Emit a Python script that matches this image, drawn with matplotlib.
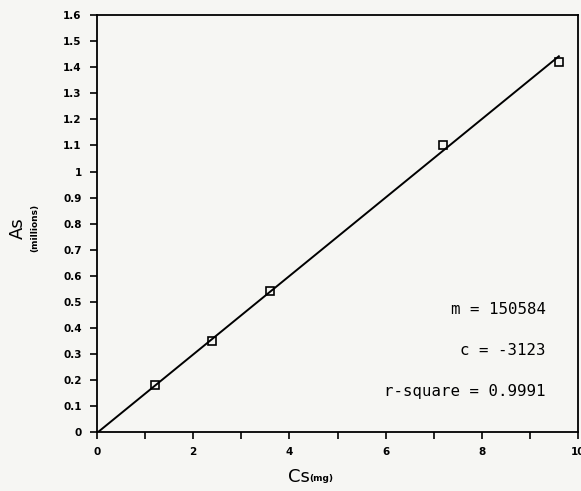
import numpy as np
import matplotlib.pyplot as plt
from matplotlib.ticker import MultipleLocator

# standard data
cs = [1.2, 2.4, 3.6, 7.2, 9.6]
as_millions = [0.18, 0.35, 0.54, 1.10, 1.42]

# fitted line (m and c are in raw counts, y axis in millions)
m = 150584
c = -3123
r_square = 0.9991
line_x = [0, 9.6]

fig = plt.figure(figsize=(5.81, 4.91), dpi=100)
fig.patch.set_facecolor("#f6f6f3")
ax = fig.add_axes([0.167, 0.120, 0.828, 0.849])
ax.set_facecolor("#f6f6f3")

fit_y = [(m * x + c) / 1e6 for x in line_x]
ax.plot(line_x, fit_y, color="black", lw=1.4)
ax.plot(cs, as_millions, "s", mfc="none", mec="black", ms=5.5, mew=1.2)

ax.set_xlim(0, 10)
ax.set_ylim(0, 1.6)
ax.xaxis.set_major_locator(MultipleLocator(2))
ax.xaxis.set_minor_locator(MultipleLocator(1))
ax.yaxis.set_major_locator(MultipleLocator(0.1))
ax.yaxis.set_major_formatter(lambda v, p: "%g" % round(v, 1))

ax.tick_params(axis="both", which="major", direction="out", length=5, width=1.2,
               labelsize=7.5, pad=6)
ax.tick_params(axis="x", which="minor", direction="out", length=5, width=1.2)
for lab in ax.get_xticklabels() + ax.get_yticklabels():
    lab.set_fontweight("bold")
for s in ax.spines.values():
    s.set_linewidth(1.3)

# y label: "As" with small units
fig.text(0.030, 0.535, "As", rotation=90, fontsize=13, va="center", ha="center")
fig.text(0.060, 0.535, "(millions)", rotation=90, fontsize=6.5, va="center",
         ha="center", fontweight="bold")
# x label
fig.text(0.514, 0.028, "Cs", fontsize=13, va="center", ha="center")
fig.text(0.553, 0.026, "(mg)", fontsize=6.5, va="center", ha="center",
         fontweight="bold")

mono = "DejaVu Sans Mono"
ax.text(9.33, 0.47, "m = %d" % m, family=mono, fontsize=11.3, ha="right", va="center")
ax.text(9.33, 0.313, "c = %d" % c, family=mono, fontsize=11.3, ha="right", va="center")
ax.text(9.33, 0.157, "r-square = %.4f" % r_square, family=mono, fontsize=11.3,
        ha="right", va="center")

fig.savefig("out.png", dpi=100, facecolor=fig.get_facecolor())
